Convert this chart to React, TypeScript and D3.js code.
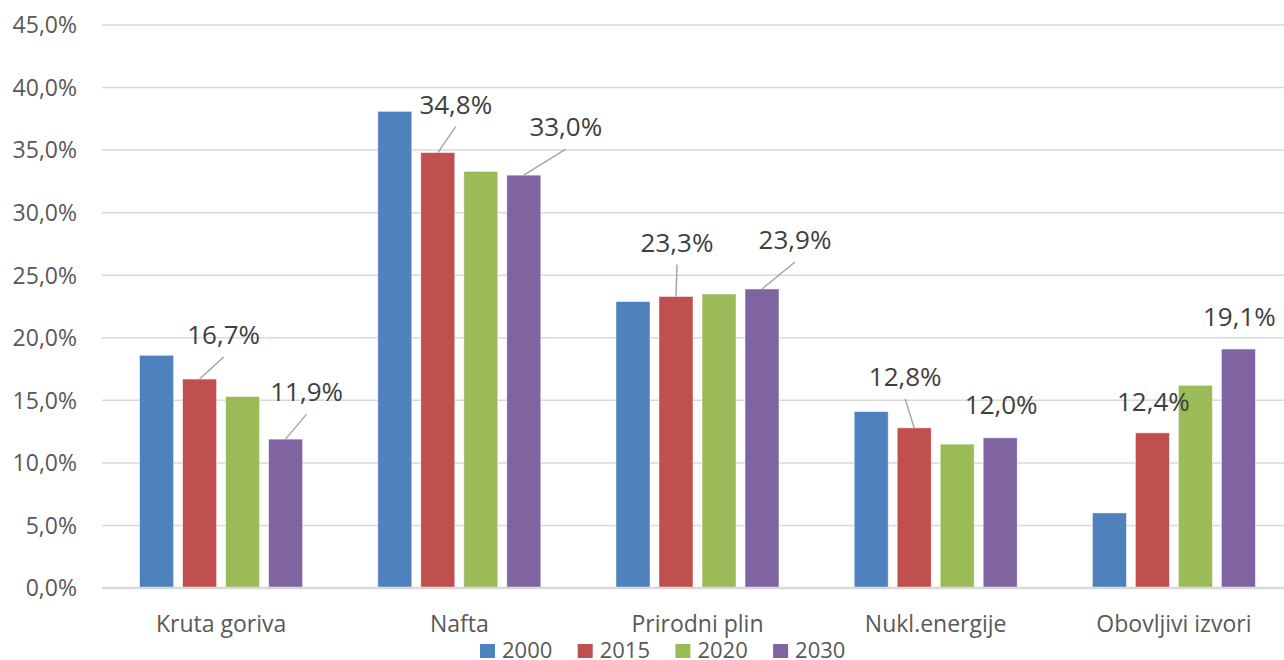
import React from "react";
import * as d3 from "d3";

const categories = ["Kruta goriva", "Nafta", "Prirodni plin", "Nukl.energije", "Obovljivi izvori"];
const years = ["2000", "2015", "2020", "2030"];
const values2000 = [18.6, 38.1, 22.9, 14.1, 6.0];
const values2015 = [16.7, 34.8, 23.3, 12.8, 12.4];
const values2020 = [15.3, 33.3, 23.5, 11.5, 16.2];
const values2030 = [11.9, 33.0, 23.9, 12.0, 19.1];
const yTicks = [0, 5, 10, 15, 20, 25, 30, 35, 40, 45];
const colors = ["#4F81BD", "#C0504D", "#9BBB59", "#8064A2"];

// data label placement (label centre offset from bar top centre, in px) and leader flag
const labelPlacement = [
  { cat: 0, series: 1, dx: 24, dy: -44, leader: true },
  { cat: 0, series: 3, dx: 21, dy: -47, leader: true },
  { cat: 1, series: 1, dx: 18, dy: -48, leader: true },
  { cat: 1, series: 3, dx: 42, dy: -48, leader: true },
  { cat: 2, series: 1, dx: 1, dy: -54, leader: true },
  { cat: 2, series: 3, dx: 33, dy: -49, leader: true },
  { cat: 3, series: 1, dx: -9, dy: -51, leader: true },
  { cat: 3, series: 3, dx: 1, dy: -33, leader: false },
  { cat: 4, series: 1, dx: 1, dy: -31, leader: false },
  { cat: 4, series: 3, dx: 1, dy: -32, leader: false },
];

const seriesValues = [values2000, values2015, values2020, values2030];
const fmt = (v: number) => v.toFixed(1).replace(".", ",") + "%";

export default function App() {
  const W = 1284, H = 660;
  const x0 = d3.scaleBand<string>().domain(categories).range([102, 1293]).padding(0);
  const groupW = 163;
  const x1 = d3.scaleBand<string>().domain(years).range([0, groupW]).paddingInner(9 / 43).paddingOuter(0);
  const off = (x0.bandwidth() - groupW) / 2;
  const y = d3.scaleLinear().domain([0, 45]).range([588, 25]);
  const font = "'Open Sans', sans-serif";
  const barX = (ci: number, si: number) => (x0(categories[ci]) as number) + off + (x1(years[si]) as number);

  return (
    <svg width={W} height={H} style={{ position: "absolute", left: 0, top: 0, background: "#fff" }}>
      {yTicks.map((t) => (
        <g key={t}>
          {t !== 0 && <line x1={102} x2={W} y1={y(t)} y2={y(t)} stroke="#d9d9d9" strokeWidth={1.5} />}
          <text x={77} y={y(t)} dy="0.36em" textAnchor="end" fontFamily={font} fontSize={23} fill="#595959">
            {fmt(t)}
          </text>
        </g>
      ))}
      {seriesValues.map((vals, si) =>
        vals.map((v, ci) => (
          <rect
            key={`${si}-${ci}`}
            x={barX(ci, si)}
            y={y(v)}
            width={x1.bandwidth()}
            height={y(0) - y(v)}
            fill={colors[si]}
            stroke="#ffffff"
            strokeOpacity={0.6}
            strokeWidth={0.8}
          />
        ))
      )}
      <line x1={102} x2={W} y1={y(0)} y2={y(0)} stroke="#d9d9d9" strokeWidth={2.5} />
      {categories.map((c) => (
        <text key={c} x={(x0(c) as number) + x0.bandwidth() / 2} y={624} dy="0.36em" textAnchor="middle" fontFamily={font} fontSize={23} fill="#595959">
          {c}
        </text>
      ))}
      {labelPlacement.map((p, i) => {
        const v = seriesValues[p.series][p.cat];
        const bx = barX(p.cat, p.series) + x1.bandwidth() / 2;
        const by = y(v);
        const lx = bx + p.dx;
        const ly = by + p.dy;
        return (
          <g key={i}>
            {p.leader && <line x1={bx} y1={by} x2={lx} y2={ly + 22} stroke="#a6a6a6" strokeWidth={1.5} />}
            <text x={lx} y={ly} dy="0.36em" textAnchor="middle" fontFamily={font} fontSize={26} fill="#404040">
              {fmt(v)}
            </text>
          </g>
        );
      })}
      {years.map((yr, i) => (
        <g key={yr} transform={`translate(${480 + i * 97.7},644)`}>
          <rect x={0} y={0} width={15} height={14} fill={colors[i]} />
          <text x={22} y={14} fontFamily={font} fontSize={22} fill="#595959">
            {yr}
          </text>
        </g>
      ))}
    </svg>
  );
}
